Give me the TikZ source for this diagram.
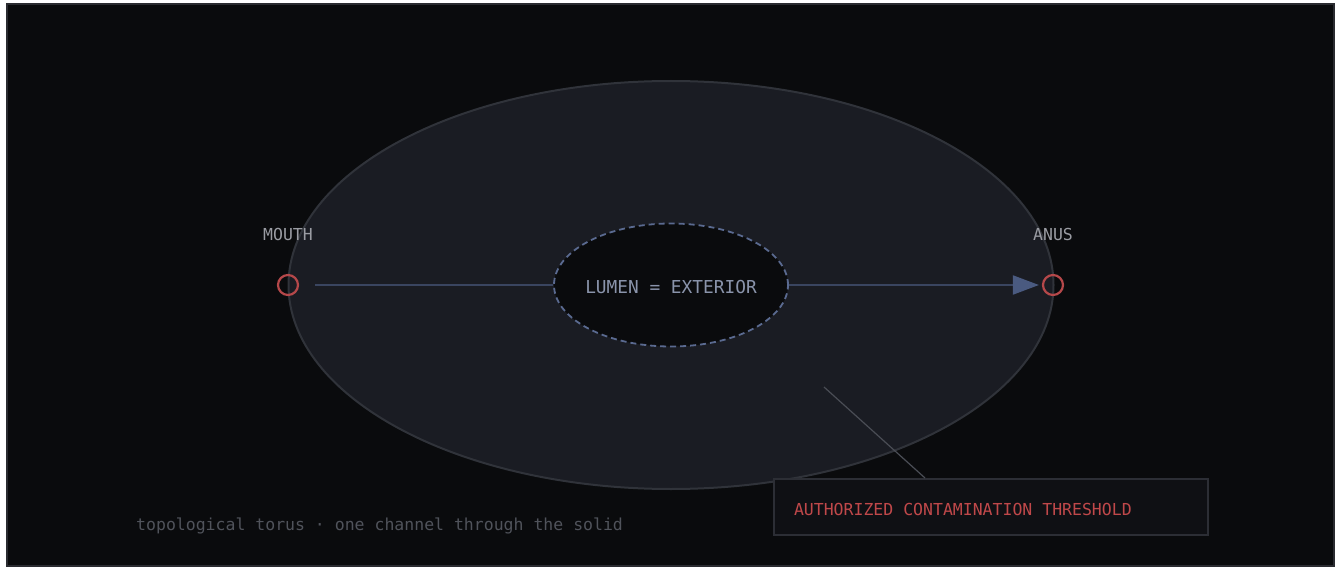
\documentclass[tikz,border=0pt]{standalone}
\usepackage{fontspec}
\setmonofont{DejaVu Sans Mono}
\usetikzlibrary{shapes.geometric,arrows.meta}
\definecolor{bg}{HTML}{0A0B0D}
\definecolor{frame}{HTML}{2A2B30}
\definecolor{solid}{HTML}{1A1C23}
\definecolor{solidedge}{HTML}{30333A}
\definecolor{lumenedge}{HTML}{5A6A90}
\definecolor{lumentext}{HTML}{8A94AB}
\definecolor{channel}{HTML}{3A4560}
\definecolor{tip}{HTML}{4A5A80}
\definecolor{port}{HTML}{B5484A}
\definecolor{label}{HTML}{9A9CA3}
\definecolor{leader}{HTML}{4A4D55}
\definecolor{notebg}{HTML}{0F1014}
\definecolor{noteedge}{HTML}{2C2E35}
\definecolor{warn}{HTML}{C0484A}
\definecolor{faint}{HTML}{50535B}
\tikzset{
  mono/.style={font=\fontsize{16.5}{20}\selectfont\ttfamily},
  port/.style={circle,draw=port,line width=2.2pt,minimum size=20pt,inner sep=0pt},
  portlabel/.style={mono,text=label,inner sep=0pt},
  flow/.style={draw=channel,line width=2pt}
}
\begin{document}
\begin{tikzpicture}[x=1pt,y=-1pt]
	\fill[white] (0,0) rectangle (1339,564);
	\draw[frame,fill=bg,line width=2pt] (7,4) rectangle (1334,566);
	\useasboundingbox (0,0) rectangle (1339,564);
	\node[ellipse,draw=solidedge,fill=solid,line width=2pt,minimum width=765pt,minimum height=408pt,inner sep=0pt] (body) at (671,285) {};
	\node[ellipse,draw=lumenedge,fill=bg,line width=1.8pt,dash pattern=on 6pt off 4pt,minimum width=234pt,minimum height=123pt,inner sep=0pt] (lumen) at (671,285) {};
	\node[font=\fontsize{17.8}{20}\selectfont\ttfamily,text=lumentext,inner sep=0pt] (lumentxt) at (671,287) {LUMEN = EXTERIOR};
	\node[port] (mouth) at (288,285) {};
	\node[port] (anus) at (1053,285) {};
	\node[portlabel] (mouthlbl) at (288,234) {MOUTH};
	\node[portlabel] (anuslbl) at (1053,234) {ANUS};
	\draw[flow,shorten <=16pt] (mouth) -- (lumen);
	\draw[flow,shorten >=3pt,-{Triangle[length=26pt,width=19pt,color=tip]}] (lumen) -- (anus);
	\node[draw=noteedge,fill=notebg,line width=2pt,anchor=west,minimum height=56pt,inner xsep=20pt,mono,text=warn] (note) at (773,507) {\makebox[394pt][l]{\raisebox{-2pt}[\height][\depth]{AUTHORIZED CONTAMINATION THRESHOLD}}};
	\coordinate (spot) at (824,387);
	\draw[leader,line width=1.2pt] (spot) -- ([xshift=152pt]note.north west);
	\node[mono,text=faint,anchor=west,inner sep=0pt] (caption) at (136,526) {topological torus · one channel through the solid};
\end{tikzpicture}
\end{document}
